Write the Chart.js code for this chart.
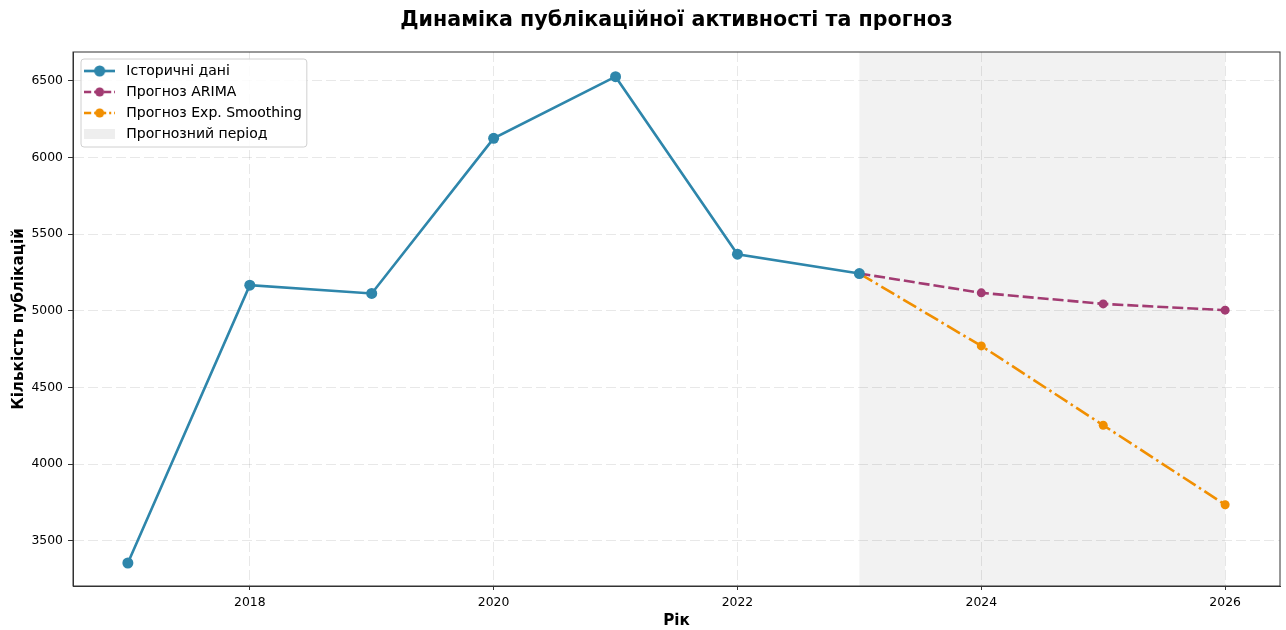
<!DOCTYPE html>
<html>
<head>
<meta charset="utf-8">
<script src="https://cdn.jsdelivr.net/npm/chart.js@4"></script>
<style>
  html, body { margin: 0; padding: 0; background: #fff; }
</style>
</head>
<body>
<canvas id="chart" width="1286" height="630"></canvas>
<script>
// Data
const histYears = [2017, 2018, 2019, 2020, 2021, 2022, 2023];
const histValues = [3356, 5167, 5113, 6124, 6526, 5369, 5243];
const forecastYears = [2023, 2024, 2025, 2026];
const arimaValues = [5243, 5117, 5045, 5004];
const expValues = [5243, 4771, 4254, 3736];
const xTicks = [2018, 2020, 2022, 2024, 2026];
const yTicks = [3500, 4000, 4500, 5000, 5500, 6000, 6500];
const forecastStart = 2023;
const forecastEnd = 2026;

const FONT = "'DejaVu Sans', sans-serif";
const C_HIST = '#2E86AB';
const C_ARIMA = '#A23B72';
const C_EXP = '#F18F01';
const ARIMA_DASH = [11, 4];
const EXP_DASH = [15, 4, 2.5, 4];

function toPoints(xs, ys) {
    return xs.map((x, i) => ({x: x, y: ys[i]}));
}

// little legend handles: line + marker, or a shaded patch
function makeHandle(color, dash, radius, width) {
    const c = document.createElement('canvas');
    c.width = 31; c.height = 14;
    const g = c.getContext('2d');
    g.strokeStyle = color;
    g.lineWidth = width;
    g.setLineDash(dash);
    g.beginPath();
    g.moveTo(0, 7);
    g.lineTo(31, 7);
    g.stroke();
    g.setLineDash([]);
    g.fillStyle = color;
    g.beginPath();
    g.arc(15.5, 7, radius, 0, Math.PI * 2);
    g.fill();
    return c;
}
function makePatch() {
    const c = document.createElement('canvas');
    c.width = 31; c.height = 14;
    const g = c.getContext('2d');
    g.fillStyle = 'rgba(128,128,128,0.12)';
    g.fillRect(0, 2, 31, 10);
    return c;
}

const handles = [
    makeHandle(C_HIST, [], 5.5, 2.6),
    makeHandle(C_ARIMA, [7, 3], 4.5, 2.5),
    makeHandle(C_EXP, [7, 3, 2, 3], 4.5, 2.5),
    makePatch()
];
const legendTexts = ['Історичні дані', 'Прогноз ARIMA', 'Прогноз Exp. Smoothing', 'Прогнозний період'];

const decor = {
    id: 'decor',
    afterLayout(chart) {
        // legend sits inside the plot, a little below its top edge
        const h = chart.legend.bottom - chart.legend.top;
        chart.legend.top = chart.chartArea.top + 5;
        chart.legend.bottom = chart.legend.top + h;
    },
    beforeDraw(chart) {
        const {ctx, chartArea, scales} = chart;
        const x0 = scales.x.getPixelForValue(forecastStart);
        const x1 = scales.x.getPixelForValue(forecastEnd);
        ctx.save();
        ctx.fillStyle = 'rgba(128,128,128,0.1)';
        ctx.fillRect(x0, chartArea.top, x1 - x0, chartArea.bottom - chartArea.top);
        ctx.restore();
    },
    afterDraw(chart) {
        const {ctx, chartArea} = chart;
        ctx.save();
        // axes frame
        ctx.strokeStyle = '#333';
        ctx.lineWidth = 1;
        ctx.strokeRect(chartArea.left, chartArea.top, chartArea.right - chartArea.left, chartArea.bottom - chartArea.top);
        // legend frame, then legend again on top of it
        const hb = chart.legend.legendHitBoxes;
        if (hb && hb.length) {
            const l = hb[0].left + 1;
            const t = hb[0].top - 5;
            const r = Math.max(...hb.map(h => h.left + h.width)) + 5;
            const b = hb[hb.length - 1].top + hb[hb.length - 1].height + 6;
            ctx.fillStyle = 'rgba(255,255,255,0.85)';
            ctx.strokeStyle = '#d0d0d0';
            ctx.lineWidth = 1;
            ctx.beginPath();
            ctx.roundRect(l, t, r - l, b - t, 3);
            ctx.fill();
            ctx.stroke();
        }
        ctx.restore();
        chart.legend.draw();
        // title, centred over the plot
        ctx.save();
        ctx.font = "bold 20.6px " + FONT;
        ctx.fillStyle = '#000';
        ctx.textAlign = 'center';
        ctx.textBaseline = 'middle';
        ctx.fillText('Динаміка публікаційної активності та прогноз', (chartArea.left + chartArea.right) / 2, 21);
        ctx.restore();
    }
};

const ctx = document.getElementById('chart').getContext('2d');
const chart = new Chart(ctx, {
    type: 'line',
    data: {
        datasets: [{
            label: legendTexts[0],
            data: toPoints(histYears, histValues),
            borderColor: C_HIST,
            backgroundColor: C_HIST,
            borderWidth: 2.6,
            pointRadius: 5.5,
            pointHoverRadius: 5.5,
            pointBorderWidth: 0,
            tension: 0
        }, {
            label: legendTexts[1],
            data: toPoints(forecastYears, arimaValues),
            borderColor: C_ARIMA,
            backgroundColor: C_ARIMA,
            borderWidth: 2.6,
            borderDash: ARIMA_DASH,
            pointRadius: 4.5,
            pointHoverRadius: 4.5,
            pointBorderWidth: 0,
            tension: 0
        }, {
            label: legendTexts[2],
            data: toPoints(forecastYears, expValues),
            borderColor: C_EXP,
            backgroundColor: C_EXP,
            borderWidth: 2.6,
            borderDash: EXP_DASH,
            pointRadius: 4.5,
            pointHoverRadius: 4.5,
            pointBorderWidth: 0,
            tension: 0
        }]
    },
    options: {
        responsive: false,
        animation: false,
        layout: {padding: {left: 0, top: 52, right: 6, bottom: 0}},
        plugins: {
            title: {display: false},
            tooltip: {enabled: false},
            legend: {
                position: 'chartArea',
                align: 'start',
                labels: {
                    font: {family: FONT, size: 14},
                    color: '#000',
                    padding: 7,
                    usePointStyle: true,
                    pointStyleWidth: 39.3,
                    generateLabels: () => legendTexts.map((t, i) => ({
                        text: t,
                        pointStyle: handles[i],
                        fillStyle: 'transparent',
                        strokeStyle: 'transparent',
                        lineWidth: 0,
                        hidden: false,
                        datasetIndex: i
                    }))
                }
            }
        },
        scales: {
            x: {
                type: 'linear',
                min: 2016.55,
                max: 2026.45,
                afterBuildTicks: s => { s.ticks = xTicks.map(v => ({value: v})); },
                afterFit: s => { s.height = 44; },
                ticks: {
                    font: {family: FONT, size: 12.4},
                    color: '#000',
                    padding: 5,
                    maxRotation: 0,
                    autoSkip: false,
                    callback: v => String(v)
                },
                grid: {
                    color: 'rgba(0,0,0,0.09)',
                    lineWidth: 1,
                    tickLength: 4,
                    tickColor: '#333',
                    tickBorderDash: [],
                    drawTicks: true
                },
                border: {display: true, color: '#333', dash: [10, 4]},
                title: {
                    display: true,
                    text: 'Рік',
                    font: {family: FONT, size: 15.2, weight: 'bold'},
                    color: '#000',
                    padding: {top: 0, bottom: 0}
                }
            },
            y: {
                type: 'linear',
                min: 3206,
                max: 6687,
                afterBuildTicks: s => { s.ticks = yTicks.map(v => ({value: v})); },
                afterFit: s => { s.width = 73; },
                ticks: {
                    font: {family: FONT, size: 12.4},
                    color: '#000',
                    padding: 5,
                    autoSkip: false,
                    callback: v => String(v)
                },
                grid: {
                    color: 'rgba(0,0,0,0.09)',
                    lineWidth: 1,
                    tickLength: 5,
                    tickColor: '#333',
                    tickBorderDash: []
                },
                border: {display: true, color: '#333', dash: [10, 4]},
                title: {
                    display: true,
                    text: 'Кількість публікацій',
                    font: {family: FONT, size: 15.2, weight: 'bold'},
                    color: '#000',
                    padding: {top: 10, bottom: 0}
                }
            }
        }
    },
    plugins: [decor]
});
</script>
</body>
</html>
